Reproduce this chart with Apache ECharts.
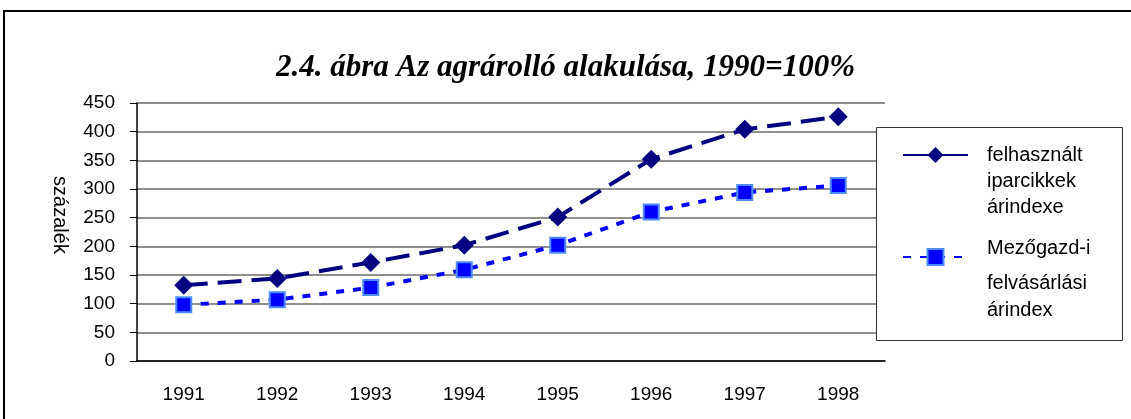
<!DOCTYPE html>
<html>
<head>
  <meta charset="utf-8">
  <title>Az agrárolló alakulása</title>
  <script src="https://cdn.jsdelivr.net/npm/echarts@6/dist/echarts.min.js"></script>
  <style>
    html, body { margin: 0; padding: 0; background: #fff; }
    #chart { width: 1131px; height: 419px; }
  </style>
</head>
<body>
  <div id="chart"></div>
  <script>
    // adatok (1990 = 100%)
    const years = ['1991', '1992', '1993', '1994', '1995', '1996', '1997', '1998'];
    const iparcikkek = [132, 144, 172, 202, 251, 352, 404, 426];
    const felvasarlasi = [98, 107, 128, 159, 202, 260, 294, 306];
    const seriesNames = ['felhasznált iparcikkek árindexe', 'Mezőgazd-i felvásárlási árindex'];

    const font = 'Liberation Sans, Arial, sans-serif';
    let myChart = echarts.init(document.getElementById('chart'));
    let option = {
      animation: false,
      backgroundColor: '#fff',
      title: {
        text: '2.4. ábra Az agrárolló alakulása, 1990=100%',
        left: 'center',
        top: 52,
        padding: 0,
        textStyle: {
          fontFamily: 'Liberation Serif, Times New Roman, serif',
          fontStyle: 'italic',
          fontWeight: 'bold',
          fontSize: 31,
          color: '#000'
        }
      },
      graphic: [
        {
          type: 'rect', silent: true, z: 0,
          shape: { x: 4, y: 11, width: 1200, height: 500 },
          style: { fill: 'none', stroke: '#000', lineWidth: 2 }
        },
        {
          type: 'rect', silent: true, z: 3,
          shape: { x: 876.5, y: 127.5, width: 246, height: 213 },
          style: { fill: '#fff', stroke: '#333', lineWidth: 1 }
        }
      ],
      legend: [
        {
          data: [seriesNames[0]],
          left: 902, top: 145, padding: 0, z: 4,
          itemWidth: 65, itemHeight: 20,
          lineStyle: { type: 'solid' },
          formatter: () => '{a|felhasznált}\n{a|iparcikkek}\n{a|árindexe}',
          textStyle: {
            padding: [52, 0, 0, 14],
            rich: { a: { fontFamily: font, fontSize: 20, lineHeight: 26, color: '#000' } }
          }
        },
        {
          data: [seriesNames[1]],
          left: 902, top: 238, padding: 0, z: 4,
          itemWidth: 65, itemHeight: 20,
          formatter: () => '{a|Mezőgazd-i}\n{b|felvásárlási}\n{b|árindex}',
          textStyle: {
            padding: [36, 0, 0, 14],
            rich: {
              a: { fontFamily: font, fontSize: 20, lineHeight: 43, color: '#000' },
              b: { fontFamily: font, fontSize: 20, lineHeight: 27, color: '#000' }
            }
          }
        }
      ],
      grid: {
        left: 137,
        right: 246,
        top: 103,
        bottom: 58
      },
      xAxis: {
        type: 'category',
        data: years,
        boundaryGap: true,
        axisLine: { lineStyle: { color: '#000', width: 1.5 } },
        axisTick: { length: 7, lineStyle: { color: '#000' } },
        axisLabel: { fontFamily: font, fontSize: 19, color: '#000', margin: 24 },
        splitLine: { show: false }
      },
      yAxis: {
        type: 'value',
        min: 0,
        max: 450,
        interval: 50,
        name: 'százalék',
        nameLocation: 'middle',
        nameRotate: -90,
        nameGap: 67,
        nameTextStyle: { fontFamily: font, fontSize: 20, color: '#000', padding: [0, 34, 0, 0] },
        axisLine: { show: true, lineStyle: { color: '#000', width: 1.5 } },
        axisTick: { show: true, length: 7, lineStyle: { color: '#000' } },
        axisLabel: { fontFamily: font, fontSize: 19, color: '#000', margin: 22 },
        splitLine: { lineStyle: { color: '#6a6a6a', width: 1.5 } }
      },
      series: [
        {
          name: seriesNames[0],
          type: 'line',
          data: iparcikkek,
          symbol: 'diamond',
          symbolSize: 19,
          color: '#000080',
          lineStyle: { color: '#000080', width: 4, type: [24, 10] },
          itemStyle: { color: '#000080' },
          z: 3
        },
        {
          name: seriesNames[1],
          type: 'line',
          data: felvasarlasi,
          symbol: 'rect',
          symbolSize: 15,
          color: '#0000ff',
          lineStyle: { color: '#0000ff', width: 4, type: [8, 9] },
          itemStyle: { color: '#0000ff', borderColor: '#4d8cff', borderWidth: 2 },
          z: 2
        }
      ]
    };
    myChart.setOption(option);
  </script>
</body>
</html>
